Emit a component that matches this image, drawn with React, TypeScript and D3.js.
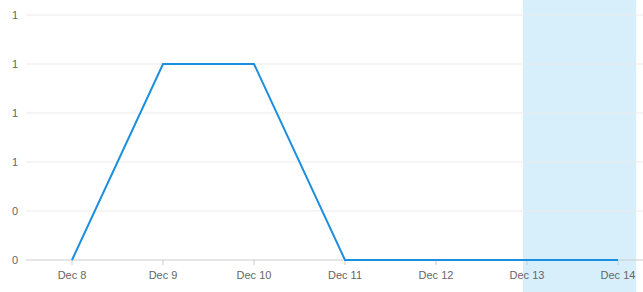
import React from "react";
import * as d3 from "d3";

const categories = ["Dec 8", "Dec 9", "Dec 10", "Dec 11", "Dec 12", "Dec 13", "Dec 14"];
const values = [0, 1, 1, 0, 0, 0, 0];
const yTicks = [0, 0.25, 0.5, 0.75, 1, 1.25];
const highlightRange = [4.956, 6.2];

const W = 643;
const H = 292;

export default function App() {
  const x = d3.scaleLinear().domain([0, categories.length - 1]).range([72, 618]);
  const y = d3.scaleLinear().domain([0, 1.25]).range([260, 15]);
  const line = d3
    .line<number>()
    .x((_, i) => x(i))
    .y((d) => y(d));
  const fmt = (v: number) => (v >= 0.5 ? "1" : "0");
  return (
    <svg
      width={W}
      height={H}
      style={{ position: "absolute", left: 0, top: 0, display: "block" }}
      fontFamily="'Liberation Sans', Arial, sans-serif"
    >
      <rect x={0} y={0} width={W} height={H} fill="#ffffff" />
      <rect
        x={x(highlightRange[0])}
        y={0}
        width={x(highlightRange[1]) - x(highlightRange[0])}
        height={H}
        fill="#d6effa"
      />
      {yTicks.map((t) => (
        <g key={t}>
          <line x1={26} x2={W} y1={y(t)} y2={y(t)} stroke={t === 0 ? "#cccccc" : "#ebebeb"} strokeWidth={1} />
          <text x={18} y={y(t)} dy="0.35em" textAnchor="end" fontSize={11} fill="#666666">
            {fmt(t)}
          </text>
        </g>
      ))}
      {categories.map((c, i) => (
        <g key={c}>
          <line x1={x(i)} x2={x(i)} y1={260} y2={265} stroke="#cccccc" />
          <text x={x(i)} y={279} textAnchor="middle" fontSize={11} fill="#666666">
            {c}
          </text>
        </g>
      ))}
      <path d={line(values) || ""} fill="none" stroke="#1a8fe0" strokeWidth={2} />
    </svg>
  );
}
